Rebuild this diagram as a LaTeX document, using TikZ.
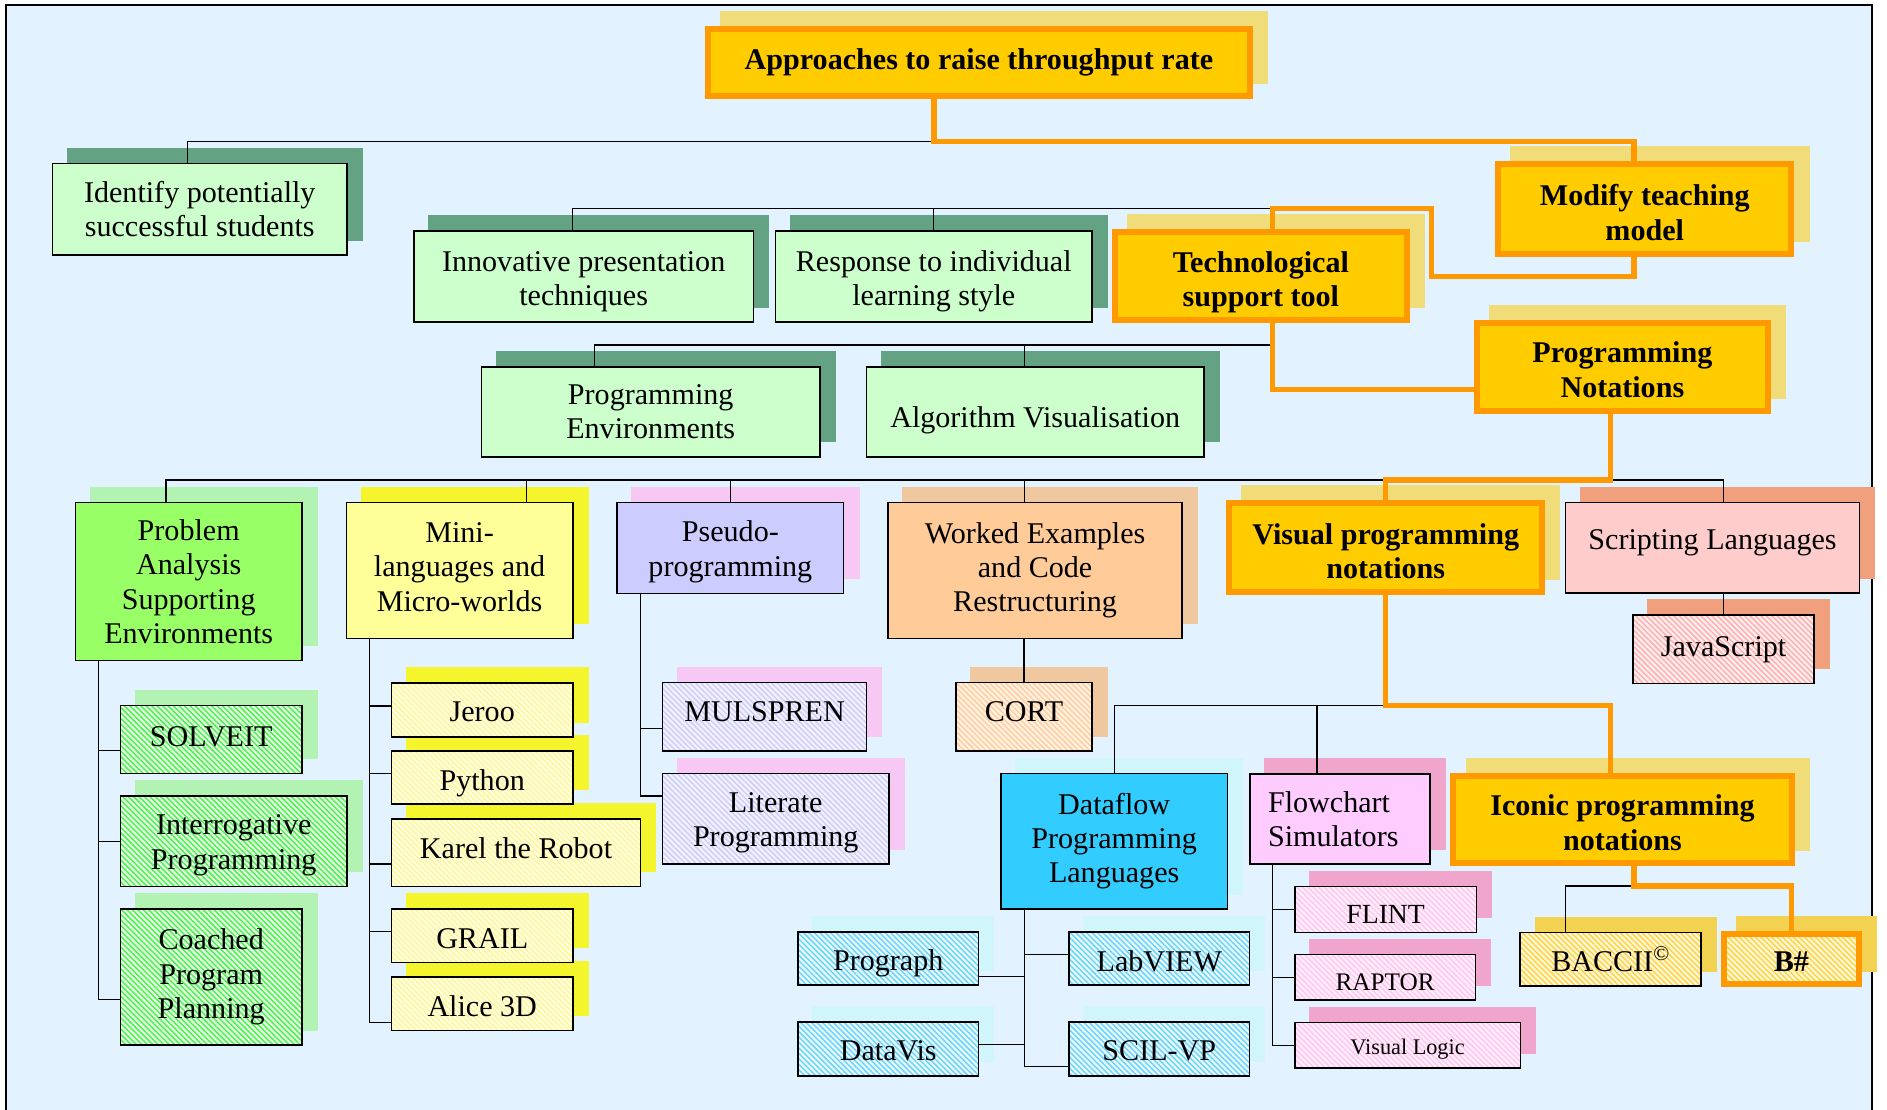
\documentclass[tikz,border=0pt]{standalone}
\usepackage{fontspec}
\setmainfont{Liberation Serif}
\usetikzlibrary{patterns.meta}
\definecolor{bgblue}{RGB}{226,242,254}
\definecolor{lgreen}{HTML}{CCFFCC}
\definecolor{obord}{HTML}{FF9900}
\definecolor{ofill}{HTML}{FFCC00}
\definecolor{pgreen}{HTML}{99FF66}
\definecolor{myellow}{HTML}{FFFF99}
\definecolor{lav}{HTML}{CCCCFF}
\definecolor{peach}{HTML}{FFCC99}
\definecolor{rose}{HTML}{FFCCCC}
\definecolor{cyanf}{HTML}{33CCFF}
\definecolor{pinkf}{HTML}{FFCCFF}
% shadow colours
\definecolor{shG}{RGB}{100,162,132}
\definecolor{shY}{RGB}{240,220,120}
\definecolor{shD}{RGB}{242,210,80}
\definecolor{shL}{RGB}{178,242,178}
\definecolor{shYe}{RGB}{245,245,45}
\definecolor{shP}{RGB}{248,200,245}
\definecolor{shO}{RGB}{240,200,160}
\definecolor{shC}{RGB}{208,246,252}
\definecolor{shK}{RGB}{240,165,205}
\definecolor{shS}{RGB}{240,160,125}
% hatch colours
\definecolor{hgB}{RGB}{225,255,225}\definecolor{hgS}{RGB}{80,238,80}
\definecolor{hyB}{RGB}{255,255,228}\definecolor{hyS}{RGB}{255,245,150}
\definecolor{hlB}{RGB}{242,242,255}\definecolor{hlS}{RGB}{205,205,250}
\definecolor{hoB}{RGB}{255,242,228}\definecolor{hoS}{RGB}{255,205,155}
\definecolor{hcB}{RGB}{232,249,255}\definecolor{hcS}{RGB}{105,212,250}
\definecolor{hpB}{RGB}{255,238,251}\definecolor{hpS}{RGB}{255,198,240}
\definecolor{hrB}{RGB}{255,238,238}\definecolor{hrS}{RGB}{255,175,175}
\definecolor{hdB}{RGB}{255,248,215}\definecolor{hdS}{RGB}{255,210,70}
\newcommand{\fsz}{\fontsize{25}{28.5}\selectfont}
% shift text inside a node without moving the node
\newcommand{\vsh}[2]{\raisebox{#1}[\height][\depth]{\begin{tabular}{@{}c@{}}#2\end{tabular}}}
\newcommand{\osh}[2]{\raisebox{#1}[\height][\depth]{#2}}
\pgfdeclarelayer{bglayer}
\pgfdeclarelayer{shlayer}
\pgfsetlayers{bglayer,shlayer,main}
\begin{document}
\begin{tikzpicture}[x=1pt,y=-1pt,
  bx/.style={draw=black, line width=1.2pt, rectangle, inner sep=1pt, align=center, font=\fsz},
  obox/.style={draw=obord, line width=5pt, rectangle, inner sep=1pt, align=center, font=\fsz\bfseries},
  sz/.style 2 args={minimum width=#1, minimum height=#2},
  hatch/.style 2 args={preaction={fill=#1}, pattern={Lines[angle=-45,distance=3.2pt,line width=1.2pt]}, pattern color=#2},
  blk/.style={draw=black, line width=1pt},
  orn/.style={draw=obord, line width=4.5pt}]
\useasboundingbox (0,0) rectangle (1568,922);
\begin{pgfonlayer}{bglayer}
\fill[white] (0,0) rectangle (1568,922);
\fill[bgblue] (5.2,3.9) rectangle (1555.8,922);
\draw[line width=1.5pt] (5.2,922) -- (5.2,3.9) -- (1555.8,3.9) -- (1555.8,922);
\end{pgfonlayer}

% ---- level 0-2
\node[obox, fill=ofill, sz={450}{55}] (root) at (813.5,52) {Approaches to raise throughput rate};
\node[bx, fill=lgreen, sz={244.5}{76.2}] (ident) at (166,173.8) {Identify potentially\\successful students};
\node[obox, fill=ofill, sz={243.8}{74.5}] (modify) at (1366.7,173.5) {\vsh{-6pt}{Modify teaching\\model}};
\node[obox, fill=ofill, sz={242.4}{73.1}] (tech) at (1047.7,229.6) {\vsh{-5pt}{Technological\\support tool}};
\node[bx, fill=lgreen, sz={282}{75.5}] (innov) at (485,229.8) {\vsh{-4pt}{Innovative presentation\\techniques}};
\node[bx, fill=lgreen, sz={263}{75.5}] (resp) at (775.9,229.8) {\vsh{-4pt}{Response to individual\\learning style}};
\node[obox, fill=ofill, sz={242.4}{73.1}] (pnot) at (1348.1,305) {\vsh{-5pt}{Programming\\Notations}};
\node[bx, fill=lgreen, sz={281.4}{74.5}] (penv) at (540.7,342.3) {Programming\\Environments};
\node[bx, fill=lgreen, sz={280.5}{74.5}] (algo) at (860.2,342.3) {\osh{-7pt}{Algorithm Visualisation}};

% ---- level 3
\node[bx, fill=pgreen, sz={188.3}{131.3}] (prob) at (156.8,483.4) {Problem\\Analysis\\Supporting\\Environments};
\node[bx, fill=myellow, sz={188.3}{112.7}] (mini) at (381.9,474) {\vsh{0.5pt}{Mini-\\languages and\\Micro-worlds}};
\node[bx, fill=lav, sz={188.4}{75.6}] (pseudo) at (606.9,455.2) {\vsh{-3.5pt}{Pseudo-\\programming}};
\node[bx, fill=peach, sz={244.4}{113}] (worked) at (860.1,473.9) {Worked Examples\\and Code\\Restructuring};
\node[obox, fill=ofill, sz={260.1}{74.2}] (vis) at (1151.5,454.8) {\vsh{-6pt}{Visual programming\\notations}};
\node[bx, fill=rose, sz={244.1}{75.1}] (script) at (1423,455.2) {\osh{4pt}{Scripting Languages}};

% ---- leaves
\node[bx, hatch={hgB}{hgS}, sz={150.8}{56.2}] (solveit) at (175.5,614.5) {\osh{2pt}{SOLVEIT}};
\node[bx, hatch={hgB}{hgS}, sz={188.3}{75.3}] (interr) at (194.2,699.2) {\vsh{-3pt}{Interrogative\\Programming}};
\node[bx, hatch={hgB}{hgS}, sz={150.8}{113}] (coached) at (175.5,811.9) {Coached\\Program\\Planning};
\node[bx, hatch={hyB}{hyS}, sz={150.7}{44.9}] (jeroo) at (400.7,589.8) {\osh{-1.5pt}{Jeroo}};
\node[bx, hatch={hyB}{hyS}, sz={150.7}{44.1}] (python) at (400.7,646) {\osh{-4.5pt}{Python}};
\node[bx, hatch={hyB}{hyS}, sz={207}{56.2}] (karel) at (428.8,708.7) {\osh{4pt}{Karel the Robot}};
\node[bx, hatch={hyB}{hyS}, sz={150.7}{44.3}] (grail) at (400.7,777.6) {\osh{-2pt}{GRAIL}};
\node[bx, hatch={hyB}{hyS}, sz={150.7}{44.6}] (alice) at (400.7,834.2) {\osh{-2pt}{Alice 3D}};
\node[bx, hatch={hlB}{hlS}, sz={169.5}{56.8}] (mulspren) at (635.3,595.7) {\osh{4pt}{MULSPREN}};
\node[bx, hatch={hlB}{hlS}, sz={188.1}{75.4}] (literate) at (644.6,680.3) {\vsh{-3pt}{Literate\\Programming}};
\node[bx, hatch={hoB}{hoS}, sz={113.1}{56.8}] (cort) at (850.9,595.7) {\osh{4pt}{CORT}};
\node[bx, fill=cyanf, sz={188.1}{112.8}] (dataflow) at (925.8,699) {Dataflow\\Programming\\Languages};
\node[bx, fill=pinkf, sz={149.6}{75}, text width=119.6pt, inner xsep=15pt, align=left] (flow) at (1113.5,680.5) {Flowchart\\Simulators};
\node[obox, fill=ofill, sz={280.9}{72.5}] (iconic) at (1348.2,681) {\vsh{-5.5pt}{Iconic programming\\notations}};
\node[bx, hatch={hrB}{hrS}, sz={150.3}{56.6}] (javascript) at (1432.2,539.5) {JavaScript};
\node[bx, hatch={hcB}{hcS}, sz={150.2}{44.3}] (prograph) at (738.1,796.4) {\osh{-4pt}{Prograph}};
\node[bx, hatch={hcB}{hcS}, sz={150.2}{44.9}] (datavis) at (738.1,871.5) {\osh{-2pt}{DataVis}};
\node[bx, hatch={hcB}{hcS}, sz={150.3}{44.3}] (labview) at (963.3,796.4) {\osh{-2pt}{LabVIEW}};
\node[bx, hatch={hcB}{hcS}, sz={150.3}{44.9}] (scil) at (963.3,871.5) {\osh{-2pt}{SCIL-VP}};
\node[bx, hatch={hpB}{hpS}, sz={150.9}{38.1}, font=\fontsize{23}{27}\selectfont] (flint) at (1151.4,755.6) {\osh{-4pt}{FLINT}};
\node[bx, hatch={hpB}{hpS}, sz={150.1}{37.7}, font=\fontsize{21}{25}\selectfont] (raptor) at (1151,812) {\osh{-4pt}{RAPTOR}};
\node[bx, hatch={hpB}{hpS}, sz={187.3}{37.7}, font=\fontsize{18.5}{22}\selectfont] (vlogic) at (1169.6,868.6) {\osh{-3pt}{Visual Logic}};
\node[bx, hatch={hdB}{hdS}, sz={150.2}{44.7}] (baccii) at (1338.3,797) {BACCII\textsuperscript{\textcopyright}};
\node[obox, hatch={hdB}{hdS}, sz={111.5}{42.1}] (bsharp) at (1488.6,796.8) {\osh{-2pt}{B\#}};

% ---- shadows
\begin{pgfonlayer}{shlayer}
\foreach \n/\cc in {root/shY, ident/shG, modify/shY, tech/shY, innov/shG, resp/shG,
  pnot/shY, penv/shG, algo/shG, prob/shL, mini/shYe, pseudo/shP, worked/shO, vis/shY,
  script/shS, solveit/shL, interr/shL, coached/shL, jeroo/shYe, python/shYe, karel/shYe,
  grail/shYe, alice/shYe, mulspren/shP, literate/shP, cort/shO, dataflow/shC, flow/shK,
  iconic/shY, javascript/shS, prograph/shC, datavis/shC, labview/shC, scil/shC,
  flint/shK, raptor/shK, vlogic/shK, baccii/shD, bsharp/shD}
  \fill[\cc] ([shift={(12.5pt,12.5pt)}]\n.south west) rectangle ([shift={(12.5pt,12.5pt)}]\n.north east);
\end{pgfonlayer}

% ---- named points
\coordinate (rootS) at ([xshift=-37.5pt]root.south);
\coordinate (jA) at (rootS |- 0,117.7);
\coordinate (modN) at ([xshift=-9pt]modify.north);
\coordinate (modS) at ([xshift=-9pt]modify.south);
\coordinate (identN) at ([xshift=-10pt]ident.north);
\coordinate (jB) at (1189.6,229.9);
\coordinate (techN) at ([xshift=9.6pt]tech.north);
\coordinate (techS) at ([xshift=9.6pt]tech.south);
\coordinate (jT) at (techN |- 0,173.1);
\coordinate (innN) at ([xshift=-9pt]innov.north);
\coordinate (jC) at (techS |- 0,286.7);
\coordinate (penvN) at ([xshift=-46.7pt]penv.north);
\coordinate (tAlgo) at ([xshift=-9.2pt]algo.north);
\coordinate (pnS) at ([xshift=-9.9pt]pnot.south);
\coordinate (jD) at (pnS |- 0,398.9);
\coordinate (probN) at ([xshift=-18.9pt]prob.north);
\coordinate (scrN) at ([xshift=9pt]script.north);
\coordinate (tMini) at ([xshift=55.9pt]mini.north);
\coordinate (tWorked) at ([xshift=-9.1pt]worked.north);
\coordinate (icoN) at ([xshift=-10pt]iconic.north);
\coordinate (icoS) at ([xshift=9.5pt]iconic.south);
\coordinate (jF) at (icoN |- 0,586.4);
\coordinate (tFlow) at ([xshift=-19.1pt]flow.north);
\coordinate (jG) at (icoS |- 0,736.2);
\coordinate (bacN) at ([xshift=-37.3pt]baccii.north);
\coordinate (sProb) at ([xshift=-75.1pt]prob.south);
\coordinate (sMini) at ([xshift=-75.1pt]mini.south);
\coordinate (sPseudo) at ([xshift=-74.9pt]pseudo.south);
\coordinate (sDf) at ([xshift=-74.8pt]dataflow.south);
\coordinate (sFlow) at ([xshift=-56.2pt]flow.south);

% ---- black connectors
\draw[blk] (jA) -| (identN);
\draw[blk] (jT) -| (innN);
\draw[blk] (resp.north) -- (resp.north |- jT);
\draw[blk] (jC) -| (penvN);
\draw[blk] (tAlgo) -- (tAlgo |- jC);
\draw[blk] (probN) |- (jD) -| (scrN);
\draw[blk] (tMini) -- (tMini |- jD);
\draw[blk] (pseudo.north) -- (pseudo.north |- jD);
\draw[blk] (tWorked) -- (tWorked |- jD);
\draw[blk] (cort.north |- worked.south) -- (cort.north);
\draw[blk] (javascript.north |- script.south) -- (javascript.north);
\draw[blk] (dataflow.north) |- (jF);
\draw[blk] (tFlow) -- (tFlow |- jF);
\draw[blk] (bacN) |- (jG);
\draw[blk] (sProb) |- ([yshift=-9.3pt]solveit.west);
\draw[blk] (sProb) |- (interr.west);
\draw[blk] (sProb) |- ([yshift=-18.5pt]coached.west);
\draw[blk] (sMini) |- ([yshift=3.1pt]jeroo.west);
\draw[blk] (sMini) |- ([yshift=3.4pt]python.west);
\draw[blk] (sMini) |- ([yshift=-9.3pt]karel.west);
\draw[blk] (sMini) |- ([yshift=3.4pt]grail.west);
\draw[blk] (sMini) |- ([yshift=-15.3pt]alice.west);
\draw[blk] (sPseudo) |- ([yshift=-9.5pt]mulspren.west);
\draw[blk] (sPseudo) |- ([yshift=18.8pt]literate.west);
\draw[blk] (sDf) |- ([yshift=3.6pt]labview.west);
\draw[blk] (sDf) |- ([yshift=-15.2pt]prograph.east);
\draw[blk] (sDf) |- ([yshift=3.7pt]datavis.east);
\draw[blk] (sDf) |- ([yshift=-14.9pt]scil.west);
\draw[blk] (sFlow) |- (flint.west);
\draw[blk] (sFlow) |- (raptor.west);
\draw[blk] (sFlow) |- (vlogic.west);

% ---- orange connectors
\draw[orn] (rootS) -- (jA) -| (modN);
\draw[orn] (modS) |- (jB) |- (jT) -- (techN);
\draw[orn] (techS) |- ([yshift=-18.5pt]pnot.west);
\draw[orn] (pnS) -- (jD) -| (vis.north);
\draw[orn] (vis.south) |- (jF) -- (icoN);
\draw[orn] (icoS) -- (jG) -| (bsharp.north);
\end{tikzpicture}
\end{document}
